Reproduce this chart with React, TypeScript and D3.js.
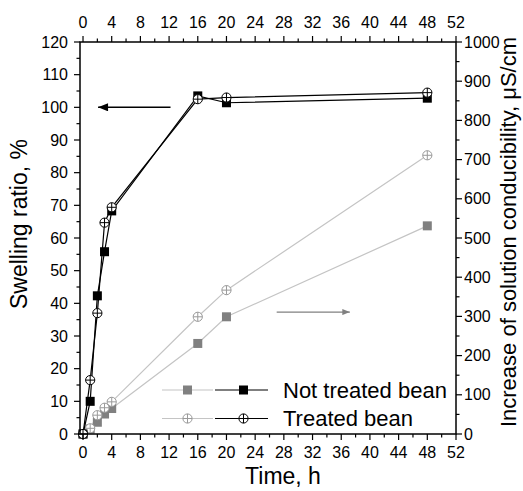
import * as d3 from "d3";

const timeH = [0, 1, 2, 3, 4, 16, 20, 48];
const swellNotTreated = [0, 10, 42.3, 55.8, 68.3, 103.5, 101.4, 102.8];
const swellTreated = [0, 16.5, 37, 64.7, 69.4, 102.5, 103, 104.5];
const condNotTreated = [0, 12.8, 30, 51, 65, 231, 299, 531];
const condTreated = [0, 14.5, 48, 67, 82, 299, 367, 711];

const timeTicks = d3.range(0, 53, 4);
const timeMinor = d3.range(2, 53, 4);
const swellTicks = d3.range(0, 121, 10);
const swellMinor = d3.range(5, 120, 10);
const condTicks = d3.range(0, 1001, 100);
const condMinor = d3.range(50, 1000, 100);

const legendLabels = ["Not treated bean", "Treated bean"];

const W = 523, H = 491;
const left = 80, right = 456, top = 42, bottom = 434;
const font = "'Liberation Sans', Arial, sans-serif";

const x = d3.scaleLinear().domain([-0.42, 52]).range([left, right]);
const yL = d3.scaleLinear().domain([0, 120]).range([bottom, top]);
const yR = d3.scaleLinear().domain([0, 1000]).range([bottom, top]);

const GRAY_LINE = "#c4c4c4";
const GRAY_MARK = "#808080";
const GRAY_CIRC = "#9a9a9a";

function Square({ cx, cy, fill }: { cx: number; cy: number; fill: string }) {
  return <rect x={cx - 4.5} y={cy - 4.5} width={9} height={9} fill={fill} />;
}

function CirclePlus({ cx, cy, stroke }: { cx: number; cy: number; stroke: string }) {
  const r = 4.6;
  return (
    <g stroke={stroke} strokeWidth={1} fill="white">
      <circle cx={cx} cy={cy} r={r} />
      <line x1={cx - r} x2={cx + r} y1={cy} y2={cy} />
      <line x1={cx} x2={cx} y1={cy - r} y2={cy + r} />
    </g>
  );
}

export default function App() {
  const lineL = d3.line<number>().x((_, i) => x(timeH[i])).y((d) => yL(d));
  const lineR = d3.line<number>().x((_, i) => x(timeH[i])).y((d) => yR(d));

  return (
    <svg width={W} height={H} style={{ position: "absolute", left: 0, top: 0, background: "white" }} fontFamily={font}>
      <defs>
        <marker id="ahBlack" viewBox="0 0 10 8" refX="10" refY="4" markerWidth="11" markerHeight="8" markerUnits="userSpaceOnUse" orient="auto">
          <path d="M0,0 L10,4 L0,8 z" fill="black" />
        </marker>
        <marker id="ahGray" viewBox="0 0 10 8" refX="10" refY="4" markerWidth="9" markerHeight="6" markerUnits="userSpaceOnUse" orient="auto">
          <path d="M0,0 L10,4 L0,8 z" fill={GRAY_MARK} />
        </marker>
      </defs>

      {/* conductivity (right axis) */}
      <path d={lineR(condNotTreated) || ""} fill="none" stroke={GRAY_LINE} strokeWidth={1.2} />
      <path d={lineR(condTreated) || ""} fill="none" stroke={GRAY_LINE} strokeWidth={1.2} />
      {condNotTreated.map((v, i) => <Square key={"cn" + i} cx={x(timeH[i])} cy={yR(v)} fill={GRAY_MARK} />)}
      {condTreated.map((v, i) => <CirclePlus key={"ct" + i} cx={x(timeH[i])} cy={yR(v)} stroke={GRAY_CIRC} />)}

      {/* swelling (left axis) */}
      <path d={lineL(swellNotTreated) || ""} fill="none" stroke="black" strokeWidth={1.2} />
      <path d={lineL(swellTreated) || ""} fill="none" stroke="black" strokeWidth={1.2} />
      {swellNotTreated.map((v, i) => <Square key={"sn" + i} cx={x(timeH[i])} cy={yL(v)} fill="black" />)}
      {swellTreated.map((v, i) => <CirclePlus key={"st" + i} cx={x(timeH[i])} cy={yL(v)} stroke="black" />)}

      {/* annotation arrows */}
      <line x1={x(12.2)} x2={x(2.1)} y1={yL(100)} y2={yL(100)} stroke="black" strokeWidth={1.5} markerEnd="url(#ahBlack)" />
      <line x1={x(27)} x2={x(37.2)} y1={yR(311)} y2={yR(311)} stroke={GRAY_MARK} strokeWidth={1.3} markerEnd="url(#ahGray)" />

      {/* frame */}
      <rect x={left} y={top} width={right - left} height={bottom - top} fill="none" stroke="black" strokeWidth={1.5} />

      {/* bottom & top axes */}
      {timeTicks.map((t) => (
        <g key={"tt" + t}>
          <line x1={x(t)} x2={x(t)} y1={bottom} y2={bottom + 6} stroke="black" strokeWidth={1.2} />
          <line x1={x(t)} x2={x(t)} y1={top} y2={top - 6} stroke="black" strokeWidth={1.2} />
          <text x={x(t)} y={458} fontSize={16} textAnchor="middle">{t}</text>
          <text x={x(t)} y={27.5} fontSize={16} textAnchor="middle">{t}</text>
        </g>
      ))}
      {timeMinor.map((t) => (
        <g key={"tm" + t}>
          <line x1={x(t)} x2={x(t)} y1={bottom} y2={bottom + 3.5} stroke="black" strokeWidth={1.2} />
          <line x1={x(t)} x2={x(t)} y1={top} y2={top - 3.5} stroke="black" strokeWidth={1.2} />
        </g>
      ))}

      {/* left axis */}
      {swellTicks.map((v) => (
        <g key={"sl" + v}>
          <line x1={left} x2={left - 6} y1={yL(v)} y2={yL(v)} stroke="black" strokeWidth={1.2} />
          <text x={68} y={yL(v)} dy="0.35em" fontSize={16} textAnchor="end">{v}</text>
        </g>
      ))}
      {swellMinor.map((v) => (
        <line key={"sm" + v} x1={left} x2={left - 3.5} y1={yL(v)} y2={yL(v)} stroke="black" strokeWidth={1.2} />
      ))}

      {/* right axis */}
      {condTicks.map((v) => (
        <g key={"cr" + v}>
          <line x1={right} x2={right + 6} y1={yR(v)} y2={yR(v)} stroke="black" strokeWidth={1.2} />
          <text x={464} y={yR(v)} dy="0.35em" fontSize={16} textAnchor="start">{v}</text>
        </g>
      ))}
      {condMinor.map((v) => (
        <line key={"cm" + v} x1={right} x2={right + 3.5} y1={yR(v)} y2={yR(v)} stroke="black" strokeWidth={1.2} />
      ))}

      {/* axis titles */}
      <text x={283} y={484} fontSize={23} textAnchor="middle">Time, h</text>
      <text transform={`translate(27,224) rotate(-90)`} fontSize={23} textAnchor="middle">Swelling ratio, %</text>
      <text transform={`translate(516,232) rotate(-90)`} fontSize={22} textAnchor="middle">Increase of solution conducibility, μS/cm</text>

      {/* legend */}
      {legendLabels.map((label, i) => {
        const ly = 390 + i * 28.5;
        return (
          <g key={label}>
            <line x1={162} x2={213} y1={ly} y2={ly} stroke={GRAY_LINE} strokeWidth={1.2} />
            <line x1={215} x2={268} y1={ly} y2={ly} stroke="black" strokeWidth={1.2} />
            {i === 0 ? (
              <>
                <Square cx={187.5} cy={ly} fill={GRAY_MARK} />
                <Square cx={243.5} cy={ly} fill="black" />
              </>
            ) : (
              <>
                <CirclePlus cx={187.5} cy={ly} stroke={GRAY_CIRC} />
                <CirclePlus cx={243.5} cy={ly} stroke="black" />
              </>
            )}
            <text x={283} y={ly} dy="0.36em" fontSize={22}>{label}</text>
          </g>
        );
      })}
    </svg>
  );
}
